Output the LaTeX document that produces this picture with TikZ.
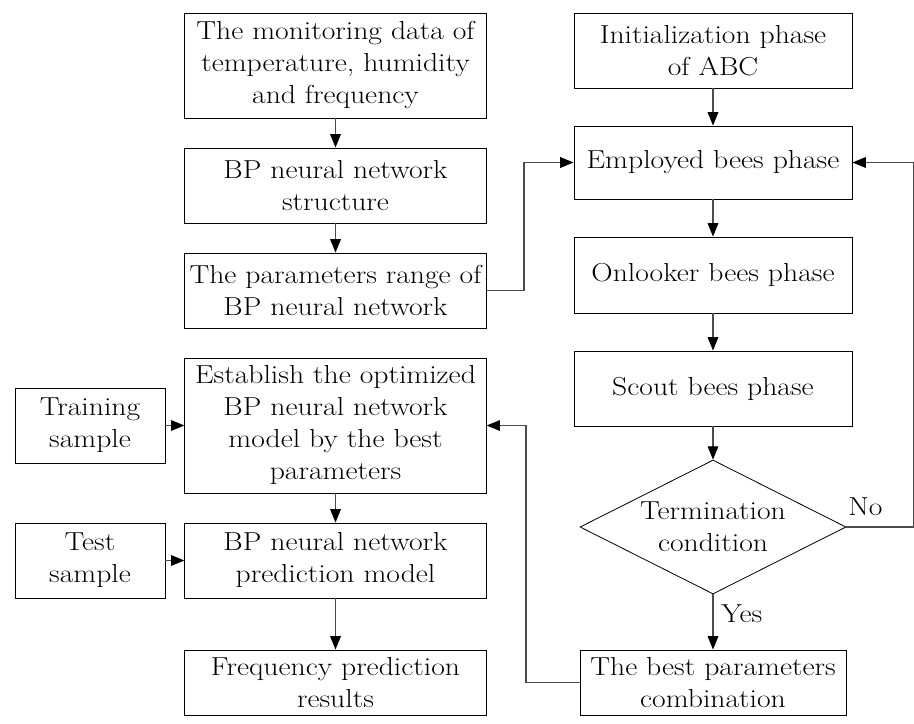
\documentclass[tikz,border=0pt]{standalone}
\usepackage{fontspec}
\setmainfont{Latin Modern Roman}[FakeStretch=1.14]
\usetikzlibrary{shapes.geometric,arrows.meta}
\begin{document}
\begin{tikzpicture}[x=0.75pt,y=-0.75pt,
  font=\fontsize{19.5}{24}\selectfont,
  box/.style={draw=black,line width=0.7pt,rectangle,align=center,inner sep=0pt},
  dia/.style={draw=black,line width=0.6pt,diamond,shape aspect=2,align=center,inner sep=0pt},
  conn/.style={draw=black!70,line width=0.8pt},
  arr/.style={conn,-{Triangle[length=10pt,width=8pt,color=black]}}]
\useasboundingbox (0,0) rectangle (914,724);
% left column
\node[box,minimum width=226pt,minimum height=78.75pt] (mon) at (335.5,65.5) {The monitoring data of\\temperature, humidity\\and frequency};
\node[box,minimum width=226pt,minimum height=56.25pt] (str) at (335.5,185.5) {BP neural network\\structure};
\node[box,minimum width=226pt,minimum height=56.25pt] (rng) at (335.5,290.5) {The parameters range of\\BP neural network};
\node[box,minimum width=226pt,minimum height=101.25pt] (est) at (335.5,425.5) {Establish the optimized\\BP neural network\\model by the best\\parameters};
\node[box,minimum width=226pt,minimum height=56.25pt] (pred) at (335.5,560.5) {BP neural network\\prediction model};
\node[box,minimum width=226pt,minimum height=48.75pt] (res) at (335.5,682.5) {Frequency prediction\\results};
\node[box,minimum width=112.5pt,minimum height=56.25pt] (train) at (90,425.5) {Training\\sample};
\node[box,minimum width=112.5pt,minimum height=56.25pt] (test) at (90,560.5) {Test\\sample};
% right column
\node[box,minimum width=208.5pt,minimum height=56.25pt] (init) at (713,50.5) {Initialization phase\\of ABC};
\node[box,minimum width=208.5pt,minimum height=54.75pt] (emp) at (713,162.5) {Employed bees phase};
\node[box,minimum width=208.5pt,minimum height=57pt] (onl) at (713,275) {Onlooker bees phase};
\node[box,minimum width=208.5pt,minimum height=56.25pt] (sct) at (713,388.5) {Scout bees phase};
\node[dia,minimum width=199.5pt,minimum height=100.5pt] (term) at (713,527) {Termination\\condition};
\node[box,minimum width=199.5pt,minimum height=48.75pt] (best) at (713,682.5) {The best parameters\\combination};
\coordinate (edgeA) at (914,527);
\coordinate (edgeB) at (914,162.5);
\coordinate (turnA) at (524,290.5);
\coordinate (turnB) at (526,682.5);
% connectors
\draw[arr] (mon) -- (str);
\draw[arr] (str) -- (rng);
\draw[arr] (est) -- (pred);
\draw[arr] (pred) -- (res);
\draw[arr] (train) -- (est);
\draw[arr] (test) -- (pred);
\draw[arr] (init) -- (emp);
\draw[arr] (emp) -- (onl);
\draw[arr] (onl) -- (sct);
\draw[arr] (sct) -- (term);
\draw[arr] (term) -- (best);
\draw[arr] (rng.east) -- (turnA) |- (emp.west);
\draw[arr] (term.east) -- (edgeA) -- (edgeB) -- (emp.east);
\draw[arr] (best.west) -- (turnB) |- (est.east);
\node[anchor=base west,inner sep=0pt] (yes) at (721,622) {Yes};
\node[anchor=base west,inner sep=0pt] (no) at (848,515) {No};
\end{tikzpicture}
\end{document}
